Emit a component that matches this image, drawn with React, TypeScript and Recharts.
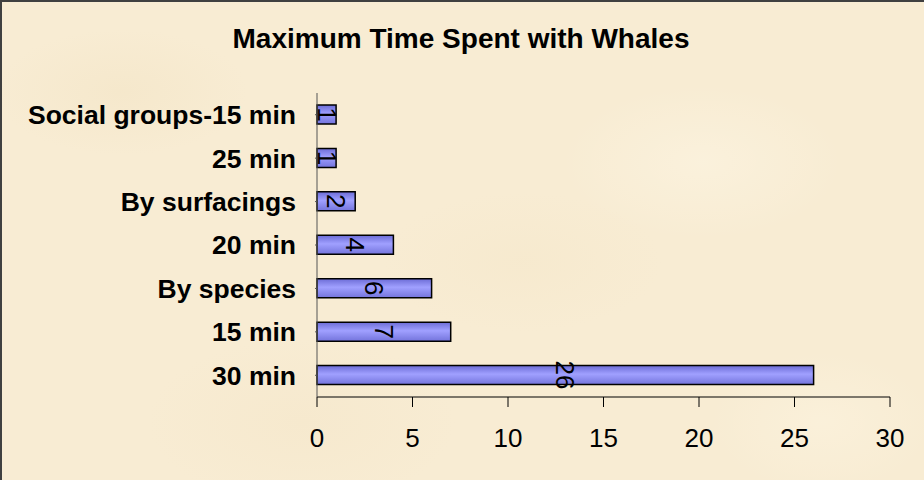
import React from "react";
import { BarChart, Bar, XAxis, YAxis, LabelList } from "recharts";

const categories = [
  "Social groups-15 min",
  "25 min",
  "By surfacings",
  "20 min",
  "By species",
  "15 min",
  "30 min",
];
const counts = [1, 1, 2, 4, 6, 7, 26];
const xTicks = [0, 5, 10, 15, 20, 25, 30];
const title = "Maximum Time Spent with Whales";

const data = categories.map((name, i) => ({ name, value: counts[i] }));

const FONT = "'Liberation Sans', Arial, sans-serif";

const BarLabel = (props: any) => {
  const { x, y, width, height, value } = props;
  const cx = Number(x) + Number(width) / 2;
  const cy = Number(y) + Number(height) / 2;
  return (
    <text
      x={cx}
      y={cy}
      transform={`rotate(90, ${cx}, ${cy})`}
      textAnchor="middle"
      dominantBaseline="central"
      fontFamily={FONT}
      fontSize={26}
      fill="#000"
    >
      {value}
    </text>
  );
};

const bg = [
  "radial-gradient(ellipse 180px 90px at 120px 90px, rgba(240,224,190,0.35), rgba(240,224,190,0) 70%)",
  "radial-gradient(ellipse 200px 110px at 700px 160px, rgba(255,250,236,0.35), rgba(255,250,236,0) 70%)",
  "radial-gradient(ellipse 220px 120px at 300px 420px, rgba(242,226,194,0.3), rgba(242,226,194,0) 70%)",
  "radial-gradient(ellipse 160px 100px at 820px 420px, rgba(255,248,230,0.35), rgba(255,248,230,0) 70%)",
  "radial-gradient(ellipse 200px 100px at 520px 260px, rgba(243,228,196,0.3), rgba(243,228,196,0) 70%)",
].join(",");

export default function App() {
  return (
    <div
      style={{
        position: "absolute",
        left: 0,
        top: 0,
        width: 924,
        height: 480,
        backgroundColor: "#f8ecd3",
        backgroundImage: bg,
        boxSizing: "border-box",
        borderLeft: "2px solid #404040",
        borderTop: "2px solid #404040",
      }}
    >
      <svg
        width={924}
        height={480}
        style={{ position: "absolute", left: -2, top: -2 }}
      >
        <text
          x={461}
          y={48}
          textAnchor="middle"
          fontFamily={FONT}
          fontWeight="bold"
          fontSize={28}
          fill="#000"
        >
          {title}
        </text>
      </svg>
      <div style={{ position: "absolute", left: -2, top: -2 }}>
        <BarChart
          width={924}
          height={480}
          data={data}
          layout="vertical"
          margin={{ top: 93, right: 34, left: 0, bottom: 0 }}
        >
          <defs>
            <linearGradient id="barGrad" x1="0" y1="0" x2="0" y2="1">
              <stop offset="0%" stopColor="#6c6cd6" />
              <stop offset="45%" stopColor="#a0a0ff" />
              <stop offset="100%" stopColor="#7474dc" />
            </linearGradient>
          </defs>
          <XAxis
            type="number"
            domain={[0, 30]}
            ticks={xTicks}
            interval={0}
            height={83}
            tickSize={10}
            tickMargin={22}
            axisLine={{ stroke: "#000" }}
            tickLine={{ stroke: "#000" }}
            tick={{ fill: "#000", fontSize: 26, fontFamily: FONT }}
          />
          <YAxis
            type="category"
            dataKey="name"
            width={317}
            tickSize={2}
            tickMargin={19}
            interval={0}
            axisLine={{ stroke: "#555" }}
            tickLine={{ stroke: "#555" }}
            tick={{ fill: "#000", fontSize: 26.5, fontFamily: FONT, fontWeight: "bold" }}
          />
          <Bar
            dataKey="value"
            barSize={19}
            fill="url(#barGrad)"
            stroke="#000"
            strokeWidth={1.5}
            isAnimationActive={false}
          >
            <LabelList dataKey="value" content={BarLabel} />
          </Bar>
        </BarChart>
      </div>
    </div>
  );
}
